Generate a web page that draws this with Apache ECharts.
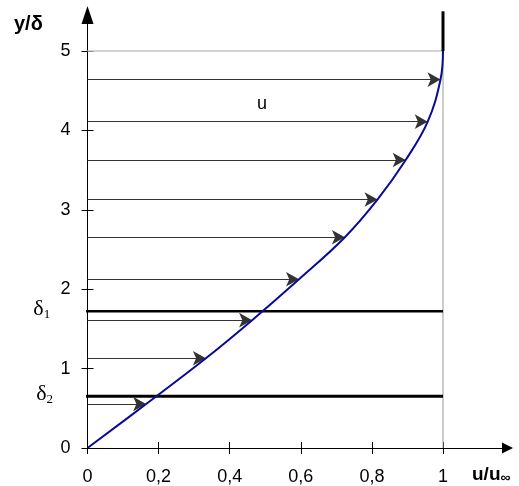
<!DOCTYPE html>
<html>
<head>
<meta charset="utf-8">
<script src="https://cdn.jsdelivr.net/npm/echarts@6/dist/echarts.min.js"></script>
<style>
  html, body { margin: 0; padding: 0; background: #fff; }
  #chart { width: 519px; height: 486px; }
</style>
</head>
<body>
<div id="chart"></div>
<script>
// Boundary-layer velocity profile: u/u∞ against y/δ
const profileU = [0, 0.165, 0.333, 0.463, 0.595, 0.724, 0.816, 0.895, 0.957, 0.993, 1];
const profileY = [0, 0.554, 1.13, 1.61, 2.125, 2.654, 3.13, 3.627, 4.11, 4.64, 5];

// Velocity vectors drawn from the wall to the profile
const arrowY = [0.554, 1.13, 1.61, 2.125, 2.654, 3.13, 3.627, 4.11, 4.64];
const arrowU = [0.165, 0.333, 0.463, 0.595, 0.724, 0.816, 0.895, 0.957, 0.993];

// Thickness levels δ1 and δ2
const deltaLevels = [1.722, 0.651];
const deltaNames = ['1', '2'];
const deltaLineStart = [-0.091, -0.083];

// Edge of the layer and free stream
const edgeY = 5;
const edgeU = 1;
const freeStreamTop = 5.5;

// Axis ticks
const xTicks = [0, 0.2, 0.4, 0.6, 0.8, 1];
const xTickLabels = ['0', '0,2', '0,4', '0,6', '0,8', '1'];
const yTicks = [0, 1, 2, 3, 4, 5];
const yTickLabels = ['0', '1', '2', '3', '4', '5'];

const X_MAX = 420 / 355.5;
const Y_MAX = 433 / 79.4;
const FONT = '"Liberation Sans", Arial, sans-serif';
const SERIF = '"Liberation Serif", "Times New Roman", serif';

const chart = echarts.init(document.getElementById('chart'), null, { renderer: 'canvas' });

function xAxisDef(primary) {
  return {
    type: 'value', min: 0, max: X_MAX, position: 'bottom',
    axisLine: primary ? {
      show: true, onZero: false,
      lineStyle: { color: '#000', width: 1 },
      symbol: ['none', 'triangle'], symbolSize: [11, 11]
    } : { show: false },
    axisTick: {
      show: true, inside: !primary, length: 6, customValues: xTicks,
      lineStyle: { color: '#000', width: 1 }
    },
    axisLabel: {
      show: primary, customValues: xTicks, margin: 20,
      color: '#000', fontSize: 18, fontFamily: FONT,
      formatter: v => xTickLabels[xTicks.indexOf(+v.toFixed(1))]
    },
    splitLine: { show: false }
  };
}

function yAxisDef(primary) {
  return {
    type: 'value', min: 0, max: Y_MAX, position: 'left',
    axisLine: primary ? {
      show: true, onZero: false,
      lineStyle: { color: '#000', width: 1 },
      symbol: ['none', 'triangle'], symbolSize: [12, 18]
    } : { show: false },
    axisTick: {
      show: true, inside: !primary, length: 6, customValues: yTicks,
      lineStyle: { color: '#000', width: 1 }
    },
    axisLabel: {
      show: primary, customValues: yTicks, margin: 17,
      color: '#000', fontSize: 18, fontFamily: FONT,
      formatter: v => yTickLabels[yTicks.indexOf(Math.round(v))]
    },
    splitLine: { show: false }
  };
}

const series = [
  // frame at the layer edge
  {
    type: 'line', xAxisIndex: 0, yAxisIndex: 0, symbol: 'none', silent: true,
    lineStyle: { color: '#c4c4c4', width: 1.5 },
    data: [[0, edgeY], [edgeU, edgeY]]
  },
  {
    type: 'line', xAxisIndex: 0, yAxisIndex: 0, symbol: 'none', silent: true,
    lineStyle: { color: '#9a9a9a', width: 1 },
    data: [[edgeU, 0], [edgeU, edgeY]]
  },
  {
    type: 'line', xAxisIndex: 0, yAxisIndex: 0, symbol: 'none', silent: true, clip: false,
    lineStyle: { color: '#000', width: 3 },
    data: [[edgeU, edgeY], [edgeU, freeStreamTop]]
  },
  // δ levels
  ...deltaLevels.map((d, i) => ({
    type: 'line', xAxisIndex: 0, yAxisIndex: 0, symbol: 'none', silent: true, clip: false,
    lineStyle: { color: '#000', width: i === 0 ? 2.5 : 3 },
    data: [[deltaLineStart[i], d], [edgeU, d]]
  })),
  // velocity vectors
  {
    type: 'line', xAxisIndex: 0, yAxisIndex: 0, data: [], silent: true,
    markLine: {
      silent: true, animation: false,
      symbol: ['none', 'arrow'], symbolSize: [11, 13],
      lineStyle: { color: '#333', width: 1, type: 'solid' },
      label: { show: false },
      emphasis: { disabled: true },
      data: arrowY.map((y, i) => [{ coord: [0, y] }, { coord: [arrowU[i], y] }])
    }
  },
  // velocity profile
  {
    type: 'line', xAxisIndex: 0, yAxisIndex: 0, symbol: 'none', silent: true,
    smooth: 0.4,
    lineStyle: { color: '#0a0a96', width: 2 },
    data: profileU.map((u, i) => [u, profileY[i]]),
    z: 5
  }
];

chart.setOption({
  animation: false,
  backgroundColor: '#fff',
  grid: { left: 87.5, right: 11.5, top: 15, bottom: 38, containLabel: false },
  xAxis: [xAxisDef(true), xAxisDef(false)],
  yAxis: [yAxisDef(true), yAxisDef(false)],
  series: series
});

// text annotations anchored to the data coordinates
const px = p => chart.convertToPixel({ xAxisIndex: 0, yAxisIndex: 0 }, p);
const graphics = [];
deltaLevels.forEach((d, i) => {
  const p = px([deltaLineStart[i], d]);
  graphics.push({
    type: 'text', x: p[0] - 5, y: p[1] - 2, silent: true,
    style: {
      text: '{d|δ}{s|' + deltaNames[i] + '}',
      align: 'right', verticalAlign: 'middle',
      rich: {
        d: { fontFamily: SERIF, fontSize: 22, lineHeight: 24, fill: '#000' },
        s: { fontFamily: SERIF, fontSize: 13, lineHeight: 4, verticalAlign: 'bottom', fill: '#000' }
      }
    }
  });
});
const uPos = px([0.491, 4.33]);
graphics.push({
  type: 'text', x: uPos[0], y: uPos[1], silent: true,
  style: { text: 'u', fontFamily: FONT, fontSize: 18, fill: '#000', align: 'center', verticalAlign: 'middle' }
});
graphics.push({
  type: 'text', x: 14, y: 24, silent: true,
  style: { text: 'y/δ', fontFamily: FONT, fontWeight: 'bold', fontSize: 20, fill: '#000', align: 'left', verticalAlign: 'middle' }
});
graphics.push({
  type: 'text', x: 472, y: 475, silent: true,
  style: {
    text: '{m|u/u}{s|∞}', align: 'left', verticalAlign: 'middle',
    rich: {
      m: { fontFamily: FONT, fontWeight: 'bold', fontSize: 19, lineHeight: 20, fill: '#000' },
      s: { fontFamily: FONT, fontWeight: 'bold', fontSize: 14, lineHeight: 6, verticalAlign: 'bottom', fill: '#000' }
    }
  }
});
chart.setOption({ graphic: graphics });
</script>
</body>
</html>
